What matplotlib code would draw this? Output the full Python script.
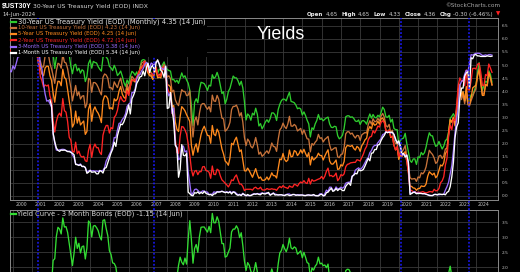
import numpy as np
import pandas as pd
import matplotlib
matplotlib.use("Agg")
import matplotlib.pyplot as plt
from matplotlib.lines import Line2D
from matplotlib.patches import Rectangle

W, H = 520, 272

# ---------------- data (monthly EOD yields, %) ----------------
months = pd.date_range("1999-06-01", "2024-06-01", freq="MS")
months_1m = pd.date_range("2001-07-01", "2024-06-01", freq="MS")

thirty_y = [
    5.98, 6.07, 6.06, 6.05, 6.16, 6.29, 6.48,
    6.49, 6.14, 5.83, 5.96, 6.15, 5.90, 5.78, 5.67, 5.89, 5.78, 5.61, 5.46,
    5.51, 5.35, 5.43, 5.76, 5.77, 5.70, 5.52, 5.39, 5.42, 4.87, 5.29, 5.47,
    5.44, 5.42, 5.80, 5.59, 5.62, 5.51, 5.39, 4.95, 4.67, 4.99, 5.03, 4.78,
    4.88, 4.69, 4.82, 4.77, 4.37, 4.56, 5.06, 5.20, 4.88, 5.14, 5.10, 5.08,
    4.94, 4.84, 4.77, 5.30, 5.36, 5.31, 5.22, 4.95, 4.89, 4.79, 4.99, 4.84,
    4.60, 4.67, 4.77, 4.58, 4.34, 4.19, 4.43, 4.28, 4.57, 4.76, 4.71, 4.61,
    4.74, 4.51, 4.90, 5.17, 5.21, 5.19, 5.07, 4.88, 4.77, 4.72, 4.56, 4.81,
    4.93, 4.68, 4.84, 4.81, 5.01, 5.12, 4.91, 4.83, 4.79, 4.77, 4.44, 4.45,
    4.35, 4.42, 4.30, 4.49, 4.70, 4.53, 4.59, 4.43, 4.31, 4.04, 3.45, 2.69,
    3.58, 3.71, 3.56, 4.05, 4.34, 4.32, 4.29, 4.18, 4.03, 4.23, 4.20, 4.63,
    4.49, 4.55, 4.72, 4.53, 4.22, 3.91, 3.98, 3.52, 3.69, 3.99, 4.11, 4.34,
    4.58, 4.51, 4.51, 4.40, 4.23, 4.38, 4.13, 3.60, 2.90, 3.13, 3.06, 2.89,
    3.16, 3.09, 3.35, 3.12, 2.67, 2.76, 2.56, 2.68, 2.82, 2.91, 2.81, 2.95,
    3.17, 3.17, 3.10, 2.88, 3.30, 3.50, 3.64, 3.70, 3.69, 3.63, 3.81, 3.96,
    3.61, 3.59, 3.56, 3.47, 3.33, 3.36, 3.32, 3.09, 3.21, 3.07, 2.89, 2.75,
    2.25, 2.60, 2.54, 2.75, 2.88, 3.11, 2.92, 2.95, 2.87, 2.93, 2.98, 3.01,
    2.75, 2.62, 2.61, 2.66, 2.64, 2.30, 2.18, 2.23, 2.32, 2.58, 3.02, 3.06,
    3.06, 3.00, 3.02, 2.96, 2.86, 2.84, 2.90, 2.73, 2.86, 2.88, 2.83, 2.74,
    2.95, 3.13, 2.97, 3.11, 3.00, 2.98, 3.08, 3.02, 3.19, 3.39, 3.30, 3.02,
    3.00, 3.08, 2.82, 2.93, 2.58, 2.53, 2.53, 1.96, 2.12, 2.18, 2.21, 2.39,
    2.00, 1.68, 1.35, 1.28, 1.41, 1.41, 1.20, 1.49, 1.46, 1.66, 1.57, 1.65,
    1.87, 2.17, 2.41, 2.30, 2.29, 2.06, 1.89, 1.93, 2.08, 1.93, 1.79, 1.90,
    2.11, 2.17, 2.44, 2.96, 3.04, 3.14, 3.01, 3.27, 3.79, 4.16, 3.80, 3.97,
    3.63, 3.92, 3.67, 3.67, 3.86, 3.85, 4.02, 4.20, 4.73, 5.09, 4.54, 4.03,
    4.22, 4.38, 4.34, 4.78, 4.65, 4.35,
]

ten_y = [
    5.90, 5.97, 5.97, 5.88, 6.02, 6.19, 6.45,
    6.68, 6.42, 6.03, 6.23, 6.29, 6.03, 6.04, 5.73, 5.80, 5.77, 5.48, 5.12,
    5.16, 4.92, 4.93, 5.35, 5.43, 5.42, 5.07, 4.85, 4.60, 4.30, 4.78, 5.07,
    5.03, 4.88, 5.42, 5.11, 5.08, 4.86, 4.51, 4.14, 3.63, 3.93, 4.22, 3.83,
    3.98, 3.70, 3.81, 3.83, 3.37, 3.54, 4.49, 4.45, 3.96, 4.33, 4.33, 4.27,
    4.15, 3.99, 3.86, 4.53, 4.66, 4.62, 4.50, 4.13, 4.14, 4.05, 4.36, 4.24,
    4.14, 4.36, 4.50, 4.21, 4.00, 3.94, 4.28, 4.02, 4.34, 4.57, 4.49, 4.39,
    4.53, 4.55, 4.86, 5.07, 5.12, 5.15, 4.99, 4.74, 4.64, 4.61, 4.46, 4.71,
    4.82, 4.56, 4.65, 4.63, 4.89, 5.03, 4.78, 4.54, 4.59, 4.48, 3.97, 4.04,
    3.67, 3.53, 3.45, 3.77, 4.06, 3.99, 3.99, 3.83, 3.85, 4.01, 2.93, 2.25,
    2.87, 3.02, 2.71, 3.16, 3.47, 3.53, 3.52, 3.40, 3.31, 3.41, 3.21, 3.85,
    3.63, 3.61, 3.84, 3.69, 3.31, 2.97, 2.94, 2.47, 2.53, 2.63, 2.81, 3.30,
    3.42, 3.42, 3.47, 3.32, 3.05, 3.18, 2.82, 2.23, 1.92, 2.17, 2.08, 1.89,
    1.83, 1.98, 2.23, 1.95, 1.59, 1.67, 1.51, 1.57, 1.65, 1.72, 1.62, 1.78,
    2.02, 1.89, 1.87, 1.70, 2.16, 2.52, 2.60, 2.78, 2.64, 2.57, 2.75, 3.04,
    2.67, 2.66, 2.73, 2.67, 2.48, 2.53, 2.58, 2.35, 2.52, 2.35, 2.18, 2.17,
    1.68, 2.00, 1.94, 2.05, 2.12, 2.35, 2.20, 2.22, 2.06, 2.16, 2.21, 2.27,
    1.94, 1.74, 1.78, 1.83, 1.84, 1.49, 1.46, 1.58, 1.60, 1.84, 2.37, 2.45,
    2.45, 2.36, 2.40, 2.29, 2.21, 2.31, 2.30, 2.12, 2.33, 2.38, 2.42, 2.40,
    2.72, 2.87, 2.74, 2.95, 2.83, 2.85, 2.96, 2.86, 3.05, 3.15, 3.01, 2.69,
    2.63, 2.73, 2.41, 2.51, 2.14, 2.00, 2.02, 1.50, 1.68, 1.69, 1.78, 1.92,
    1.51, 1.13, 0.70, 0.64, 0.65, 0.66, 0.55, 0.72, 0.69, 0.88, 0.84, 0.93,
    1.11, 1.44, 1.74, 1.65, 1.58, 1.45, 1.24, 1.30, 1.52, 1.55, 1.43, 1.52,
    1.79, 1.83, 2.32, 2.89, 2.85, 2.98, 2.67, 3.15, 3.83, 4.10, 3.68, 3.88,
    3.52, 3.92, 3.48, 3.44, 3.64, 3.81, 3.97, 4.09, 4.59, 4.88, 4.37, 3.88,
    3.91, 4.25, 4.20, 4.68, 4.51, 4.23,
]

five_y = [
    5.65, 5.72, 5.81, 5.78, 5.95, 6.07, 6.36,
    6.68, 6.62, 6.32, 6.50, 6.57, 6.23, 6.17, 5.99, 5.83, 5.80, 5.40, 4.99,
    4.89, 4.66, 4.59, 4.89, 4.96, 4.95, 4.60, 4.41, 3.93, 3.58, 4.07, 4.38,
    4.37, 4.21, 4.84, 4.53, 4.46, 4.06, 3.63, 3.26, 2.63, 2.76, 3.24, 2.78,
    3.02, 2.71, 2.79, 2.86, 2.35, 2.46, 3.31, 3.52, 2.85, 3.27, 3.40, 3.25,
    3.16, 3.01, 2.80, 3.63, 3.82, 3.81, 3.71, 3.33, 3.37, 3.31, 3.71, 3.63,
    3.71, 4.01, 4.18, 3.89, 3.77, 3.72, 4.12, 3.90, 4.18, 4.45, 4.40, 4.35,
    4.49, 4.69, 4.82, 4.92, 4.99, 5.10, 4.91, 4.70, 4.59, 4.58, 4.45, 4.70,
    4.84, 4.51, 4.54, 4.51, 4.86, 4.92, 4.60, 4.25, 4.23, 4.16, 3.41, 3.45,
    2.82, 2.54, 2.46, 3.03, 3.41, 3.34, 3.25, 3.10, 2.98, 2.84, 1.93, 1.55,
    1.85, 1.99, 1.67, 2.02, 2.34, 2.54, 2.66, 2.48, 2.31, 2.30, 2.01, 2.69,
    2.36, 2.30, 2.55, 2.43, 2.10, 1.79, 1.60, 1.33, 1.27, 1.17, 1.45, 2.01,
    1.95, 2.13, 2.24, 1.97, 1.69, 1.76, 1.35, 0.96, 0.95, 1.06, 0.96, 0.83,
    0.71, 0.87, 1.04, 0.82, 0.67, 0.72, 0.60, 0.59, 0.62, 0.72, 0.61, 0.72,
    0.88, 0.77, 0.77, 0.68, 1.05, 1.41, 1.38, 1.62, 1.39, 1.31, 1.37, 1.75,
    1.49, 1.51, 1.73, 1.69, 1.54, 1.62, 1.76, 1.63, 1.78, 1.62, 1.49, 1.65,
    1.18, 1.50, 1.37, 1.43, 1.49, 1.63, 1.54, 1.54, 1.37, 1.52, 1.65, 1.76,
    1.33, 1.22, 1.21, 1.28, 1.37, 1.01, 1.03, 1.19, 1.14, 1.31, 1.83, 1.93,
    1.91, 1.89, 1.93, 1.81, 1.75, 1.89, 1.84, 1.70, 1.92, 2.01, 2.14, 2.20,
    2.52, 2.65, 2.56, 2.80, 2.70, 2.73, 2.85, 2.74, 2.94, 2.98, 2.84, 2.51,
    2.43, 2.52, 2.23, 2.28, 1.93, 1.76, 1.84, 1.39, 1.55, 1.51, 1.62, 1.69,
    1.31, 0.94, 0.37, 0.36, 0.30, 0.29, 0.21, 0.28, 0.28, 0.38, 0.36, 0.36,
    0.45, 0.75, 0.92, 0.86, 0.80, 0.87, 0.69, 0.77, 0.98, 1.18, 1.14, 1.26,
    1.62, 1.71, 2.42, 2.92, 2.81, 3.01, 2.70, 3.30, 4.06, 4.27, 3.82, 3.99,
    3.63, 4.18, 3.60, 3.51, 3.74, 4.13, 4.18, 4.23, 4.60, 4.82, 4.31, 3.84,
    3.84, 4.26, 4.21, 4.72, 4.52, 4.25,
]

two_y = [
    5.52, 5.59, 5.73, 5.73, 5.88, 5.98, 6.24,
    6.59, 6.66, 6.53, 6.72, 6.74, 6.37, 6.32, 6.14, 5.98, 5.89, 5.43, 5.10,
    4.57, 4.40, 4.16, 4.24, 4.20, 4.24, 3.82, 3.63, 2.86, 2.44, 2.84, 3.07,
    3.16, 3.04, 3.72, 3.26, 3.20, 2.84, 2.24, 2.13, 1.70, 1.67, 2.05, 1.61,
    1.71, 1.53, 1.48, 1.51, 1.34, 1.31, 1.74, 1.97, 1.47, 1.83, 1.98, 1.84,
    1.84, 1.66, 1.58, 2.32, 2.55, 2.69, 2.69, 2.40, 2.61, 2.56, 3.00, 3.08,
    3.27, 3.60, 3.80, 3.66, 3.60, 3.64, 4.02, 3.84, 4.18, 4.40, 4.43, 4.41,
    4.54, 4.69, 4.82, 4.87, 4.99, 5.16, 4.96, 4.78, 4.71, 4.70, 4.60, 4.82,
    4.93, 4.65, 4.58, 4.60, 4.92, 4.87, 4.56, 4.15, 3.97, 3.94, 3.15, 3.05,
    2.17, 1.65, 1.62, 2.29, 2.65, 2.63, 2.52, 2.36, 2.00, 1.56, 1.01, 0.76,
    0.94, 0.97, 0.81, 0.93, 0.92, 1.11, 1.12, 0.97, 0.95, 0.90, 0.67, 1.14,
    0.82, 0.81, 1.02, 0.97, 0.76, 0.61, 0.55, 0.48, 0.42, 0.34, 0.45, 0.61,
    0.58, 0.72, 0.80, 0.61, 0.45, 0.45, 0.36, 0.20, 0.25, 0.25, 0.25, 0.25,
    0.22, 0.30, 0.33, 0.27, 0.27, 0.33, 0.23, 0.22, 0.23, 0.28, 0.25, 0.25,
    0.27, 0.25, 0.25, 0.21, 0.30, 0.36, 0.31, 0.39, 0.33, 0.31, 0.28, 0.38,
    0.34, 0.33, 0.44, 0.42, 0.37, 0.47, 0.53, 0.49, 0.58, 0.50, 0.47, 0.67,
    0.45, 0.62, 0.56, 0.58, 0.61, 0.64, 0.66, 0.74, 0.64, 0.75, 0.94, 1.06,
    0.76, 0.78, 0.73, 0.77, 0.87, 0.58, 0.66, 0.81, 0.77, 0.84, 1.11, 1.20,
    1.22, 1.26, 1.27, 1.28, 1.28, 1.38, 1.36, 1.33, 1.47, 1.60, 1.78, 1.89,
    2.14, 2.25, 2.27, 2.49, 2.40, 2.52, 2.67, 2.63, 2.81, 2.87, 2.80, 2.48,
    2.45, 2.52, 2.27, 2.27, 1.95, 1.75, 1.89, 1.50, 1.63, 1.52, 1.61, 1.58,
    1.33, 0.86, 0.23, 0.20, 0.16, 0.16, 0.11, 0.14, 0.13, 0.14, 0.16, 0.13,
    0.11, 0.13, 0.16, 0.16, 0.14, 0.25, 0.19, 0.20, 0.28, 0.50, 0.57, 0.73,
    1.18, 1.44, 2.28, 2.70, 2.53, 2.92, 2.88, 3.45, 4.22, 4.51, 4.38, 4.41,
    4.21, 4.81, 4.06, 4.04, 4.40, 4.87, 4.88, 4.85, 5.03, 5.07, 4.73, 4.23,
    4.21, 4.64, 4.59, 5.04, 4.89, 4.72,
]

three_m = [
    4.78, 4.74, 4.97, 4.85, 5.06, 5.30, 5.33,
    5.69, 5.78, 5.87, 5.82, 5.64, 5.88, 6.21, 6.31, 6.23, 6.40, 6.22, 5.89,
    4.98, 4.86, 4.28, 3.89, 3.62, 3.65, 3.53, 3.39, 2.37, 2.01, 1.75, 1.74,
    1.76, 1.77, 1.78, 1.77, 1.73, 1.70, 1.71, 1.69, 1.57, 1.46, 1.22, 1.20,
    1.18, 1.22, 1.12, 1.12, 1.09, 0.90, 0.95, 0.98, 0.95, 0.96, 0.94, 0.95,
    0.93, 0.97, 0.95, 0.97, 1.08, 1.33, 1.45, 1.58, 1.71, 1.90, 2.23, 2.22,
    2.51, 2.77, 2.79, 2.92, 2.99, 3.13, 3.42, 3.51, 3.55, 3.95, 3.95, 4.08,
    4.47, 4.62, 4.63, 4.77, 4.86, 5.01, 5.10, 5.05, 4.89, 5.08, 5.03, 5.02,
    5.13, 5.16, 5.04, 4.91, 4.86, 4.82, 4.96, 4.01, 3.82, 3.94, 3.15, 3.36,
    1.96, 1.85, 1.38, 1.43, 1.89, 1.90, 1.68, 1.72, 0.92, 0.46, 0.01, 0.11,
    0.24, 0.26, 0.21, 0.14, 0.14, 0.19, 0.18, 0.15, 0.14, 0.05, 0.06, 0.06,
    0.15, 0.13, 0.16, 0.16, 0.16, 0.18, 0.15, 0.13, 0.16, 0.12, 0.17, 0.12,
    0.15, 0.15, 0.09, 0.04, 0.06, 0.03, 0.10, 0.02, 0.02, 0.01, 0.01, 0.02,
    0.06, 0.08, 0.07, 0.09, 0.07, 0.09, 0.11, 0.09, 0.10, 0.11, 0.08, 0.05,
    0.07, 0.11, 0.07, 0.05, 0.04, 0.04, 0.04, 0.02, 0.02, 0.05, 0.07, 0.07,
    0.02, 0.05, 0.05, 0.03, 0.04, 0.04, 0.03, 0.03, 0.02, 0.01, 0.02, 0.04,
    0.02, 0.02, 0.03, 0.01, 0.01, 0.01, 0.08, 0.08, 0.00, 0.08, 0.22, 0.16,
    0.33, 0.33, 0.21, 0.22, 0.34, 0.26, 0.28, 0.33, 0.29, 0.34, 0.48, 0.51,
    0.52, 0.53, 0.76, 0.80, 0.98, 1.03, 1.07, 1.01, 1.06, 1.15, 1.27, 1.39,
    1.46, 1.65, 1.73, 1.87, 1.93, 1.93, 2.03, 2.11, 2.19, 2.34, 2.37, 2.45,
    2.41, 2.45, 2.40, 2.43, 2.35, 2.12, 2.08, 1.99, 1.88, 1.54, 1.59, 1.55,
    1.55, 1.27, 0.11, 0.09, 0.14, 0.16, 0.09, 0.11, 0.10, 0.09, 0.08, 0.09,
    0.06, 0.04, 0.03, 0.01, 0.01, 0.05, 0.06, 0.04, 0.04, 0.05, 0.05, 0.06,
    0.22, 0.35, 0.52, 0.85, 1.16, 1.72, 2.41, 2.96, 3.33, 4.22, 4.37, 4.42,
    4.65, 4.80, 4.75, 5.05, 5.40, 5.38, 5.42, 5.45, 5.45, 5.45, 5.42, 5.37,
    5.37, 5.39, 5.37, 5.40, 5.40, 5.38,
]

one_m = [
    3.67, 3.45, 2.39, 2.07, 1.83, 1.74,
    1.70, 1.75, 1.74, 1.75, 1.73, 1.69, 1.69, 1.66, 1.63, 1.57, 1.20, 1.19,
    1.16, 1.19, 1.12, 1.13, 1.08, 0.86, 0.90, 0.97, 0.90, 0.91, 0.92, 0.84,
    0.84, 0.96, 0.94, 0.87, 1.05, 1.08, 1.27, 1.47, 1.64, 1.78, 2.05, 1.89,
    2.30, 2.53, 2.74, 2.72, 2.83, 3.01, 3.18, 3.48, 3.13, 3.71, 3.84, 4.01,
    4.30, 4.41, 4.55, 4.57, 4.77, 4.59, 4.90, 5.07, 4.71, 4.92, 4.99, 4.74,
    5.07, 5.20, 5.04, 4.80, 4.72, 4.53, 4.95, 3.34, 3.37, 3.95, 3.34, 2.82,
    1.93, 1.83, 0.71, 1.01, 1.96, 1.55, 1.53, 1.62, 0.14, 0.08, 0.02, 0.00,
    0.12, 0.10, 0.15, 0.08, 0.13, 0.09, 0.17, 0.10, 0.07, 0.04, 0.05, 0.01,
    0.07, 0.08, 0.15, 0.14, 0.15, 0.17, 0.15, 0.12, 0.14, 0.11, 0.15, 0.07,
    0.15, 0.12, 0.05, 0.02, 0.04, 0.01, 0.08, 0.05, 0.00, 0.05, 0.01, 0.01,
    0.04, 0.07, 0.06, 0.08, 0.05, 0.04, 0.10, 0.08, 0.07, 0.10, 0.13, 0.02,
    0.06, 0.10, 0.03, 0.04, 0.03, 0.04, 0.04, 0.02, 0.01, 0.04, 0.04, 0.01,
    0.02, 0.05, 0.05, 0.02, 0.03, 0.02, 0.03, 0.03, 0.01, 0.01, 0.03, 0.03,
    0.02, 0.02, 0.05, 0.01, 0.00, 0.00, 0.04, 0.06, 0.00, 0.01, 0.12, 0.14,
    0.22, 0.29, 0.17, 0.20, 0.28, 0.20, 0.26, 0.26, 0.20, 0.20, 0.36, 0.44,
    0.49, 0.40, 0.74, 0.79, 0.86, 0.84, 1.00, 0.96, 0.97, 1.01, 1.14, 1.28,
    1.43, 1.34, 1.63, 1.64, 1.77, 1.77, 1.95, 1.96, 2.12, 2.23, 2.31, 2.44,
    2.42, 2.43, 2.43, 2.43, 2.35, 2.18, 2.01, 2.10, 1.91, 1.59, 1.62, 1.48,
    1.56, 1.28, 0.05, 0.09, 0.13, 0.13, 0.08, 0.09, 0.09, 0.09, 0.08, 0.08,
    0.06, 0.04, 0.01, 0.01, 0.01, 0.05, 0.05, 0.04, 0.07, 0.06, 0.05, 0.06,
    0.04, 0.13, 0.17, 0.35, 0.73, 1.28, 2.22, 2.64, 2.79, 3.73, 4.12, 4.12,
    4.58, 4.70, 4.74, 4.10, 5.28, 5.24, 5.39, 5.40, 5.35, 5.35, 5.33, 5.33,
    5.33, 5.33, 5.35, 5.34, 5.33, 5.34,
]

# marker dates of the blue dotted vertical lines (decimal years)
marker_years = [2000.87, 2006.91, 2019.68, 2023.22]

year_labels = [str(y) for y in range(2000, 2025)]
top_ticks = [f"{v:.1f}" for v in np.arange(0.0, 6.51, 0.5)]
bot_ticks = [f"{v:.1f}" for v in np.arange(2.0, 3.51, 0.5)]

legend_rows = [
    ("30-Year US Treasury Yield (EOD) (Monthly) 4.35 (14 Jun)", "#2ecc2e", "#e6e6e6"),
    ("10-Year US Treasury Yield (EOD) 4.23 (14 Jun)", "#c8733a", "#c8733a"),
    ("5-Year US Treasury Yield (EOD) 4.25 (14 Jun)", "#ff8a1e", "#ff8a1e"),
    ("2-Year US Treasury Yield (EOD) 4.72 (14 Jun)", "#ff2424", "#ff2424"),
    ("3-Month US Treasury Yield (EOD) 5.38 (14 Jun)", "#9a6cff", "#9a6cff"),
    ("1-Month US Treasury Yield (EOD) 5.34 (14 Jun)", "#ffffff", "#ffffff"),
]

# ---------------- figure ----------------
def dec(idx):
    return np.asarray(idx.year + (idx.month - 1) / 12.0, dtype=float)

x_all = dec(months)
x_1m = dec(months_1m)
curve = np.array(ten_y) - np.array(three_m)

fig = plt.figure(figsize=(W / 100, H / 100), dpi=100, facecolor="black")
renderer = fig.canvas.get_renderer()


def fx(px):
    return px / W


def fy(py):
    return 1 - py / H


def yr(px):
    return 2000 + (px - 21) / 19.29


ax1 = fig.add_axes([fx(10), fy(200), (498 - 10) / W, (200 - 18) / H])
ax2 = fig.add_axes([fx(10), fy(300), (498 - 10) / W, (300 - 209.5) / H])

grid_c = "#3a3a3a"
for ax in (ax1, ax2):
    ax.set_facecolor("black")
    ax.set_xlim(yr(10), yr(498))
    for s in ax.spines.values():
        s.set_color("#8a8a8a")
        s.set_linewidth(0.7)
    ax.yaxis.tick_right()
    ax.tick_params(axis="y", which="major", length=0, pad=2.8, labelsize=3.1,
                   labelcolor="#c4c4c4")
    ax.set_xticks([y - 0.41 for y in range(2000, 2025)], minor=True)
    ax.tick_params(axis="x", which="minor", length=0)
    ax.grid(which="minor", axis="x", color=grid_c, lw=0.6)
    ax.set_axisbelow(True)

ax1.set_ylim(-0.16, 6.80)
ax1.set_yticks(np.arange(0.0, 6.51, 0.5))
ax1.set_yticklabels(top_ticks)
ax1.grid(which="major", axis="y", color=grid_c, lw=0.6)
ax1.set_xticks(range(2000, 2025))
ax1.set_xticklabels(year_labels)
ax1.tick_params(axis="x", which="major", length=0, pad=1.6, labelsize=3.3,
                labelcolor="#c4c4c4")

ax2.set_ylim(0.92, 3.92)
ax2.set_yticks(np.arange(2.0, 3.51, 0.5))
ax2.set_yticklabels(bot_ticks)
ax2.set_yticks([1.0, 1.5], minor=True)
ax2.tick_params(axis="y", which="minor", length=0)
ax2.grid(which="both", axis="y", color=grid_c, lw=0.6)
ax2.set_xticks(range(2000, 2025))
ax2.tick_params(axis="x", which="major", length=0, labelbottom=False)

series = [thirty_y, ten_y, five_y, two_y, three_m]
for vals, (_, lc, _) in zip(series, legend_rows[:5]):
    ax1.plot(x_all, vals, color=lc, lw=0.95, zorder=3)
ax1.plot(x_1m, one_m, color=legend_rows[5][1], lw=0.95, zorder=4)

ax2.plot(x_all, curve, color="#33dd33", lw=0.95, zorder=3)

for m in marker_years:
    ax1.axvline(m, ymin=-(9.5 / 182), ymax=1, color="#1a1aff", lw=1.1,
                ls=(0, (1.2, 1.2)), zorder=8, clip_on=False)
    ax2.axvline(m, color="#1a1aff", lw=1.1, ls=(0, (1.2, 1.2)), zorder=8)

# legend block (opaque)
bg = Rectangle((fx(10.5), fy(56.5)), (207 - 10.5) / W, (56.5 - 18.5) / H,
               transform=fig.transFigure, facecolor="black", edgecolor="none",
               zorder=5)
fig.patches.append(bg)


def fit_text(xl, yc, s, target_w, family="DejaVu Sans", weight="normal",
             color="white", va="center"):
    t = fig.text(fx(xl), fy(yc), s, fontsize=10, family=family, weight=weight,
                 color=color, va=va, ha="left", zorder=10)
    w = t.get_window_extent(renderer).width
    t.set_fontsize(10 * target_w / w)
    return t


row_y = [21.7, 27.8, 34.0, 40.2, 46.5, 52.7]
for i, ((txt, lc, tc), yy) in enumerate(zip(legend_rows, row_y)):
    fig.lines.append(Line2D([fx(11), fx(16)], [fy(yy), fy(yy)], color=lc, lw=1.6,
                            transform=fig.transFigure, zorder=10))
    if i == 0:
        fit_text(18, yy, txt, 187, color=tc)
    else:
        fit_text(18, yy, txt, 122 * len(txt) / len(legend_rows[1][0]), color=tc)

# bottom legend
fig.lines.append(Line2D([fx(10.5), fx(15.5)], [fy(213.5), fy(213.5)], color="#33dd33",
                        lw=1.6, transform=fig.transFigure, zorder=10))
fit_text(17, 213.5, "Yield Curve - 3 Month Bonds (EOD) -1.15 (14 Jun)", 165,
         color="#d8d8d8")

# header
fit_text(2, 6.2, "$UST30Y", 30, family="Liberation Sans", weight="bold", color="white")
fit_text(33, 6.5, "30-Year US Treasury Yield (EOD) INDX", 114, color="#d6d6d6")
fit_text(2, 14.2, "14-Jun-2024", 33, color="#d6d6d6")
fit_text(445, 5.8, "\u00a9StockCharts.com", 55, color="#a8a8a8")

# OHLC line
segs = [("Open", "bold", "#eeeeee"), ("4.65", "normal", "#cfcfcf"),
        ("High", "bold", "#eeeeee"), ("4.65", "normal", "#cfcfcf"),
        ("Low", "bold", "#eeeeee"), ("4.33", "normal", "#cfcfcf"),
        ("Close", "bold", "#eeeeee"), ("4.36", "normal", "#cfcfcf"),
        ("Chg", "bold", "#eeeeee"), ("-0.30 (-6.46%)", "normal", "#cfcfcf"),
        ("\u25bc", "normal", "#ff2020")]
gaps = [1.8, 3.4, 1.8, 3.4, 1.8, 3.4, 1.8, 3.4, 1.8, 2.0]
fs = 3.6
texts = []
widths = []
for s, wgt, c in segs:
    t = fig.text(0, fy(14.2), s, fontsize=fs, family="DejaVu Sans", weight=wgt,
                 color=c, va="center", ha="left", zorder=10)
    texts.append(t)
    widths.append(t.get_window_extent(renderer).width)
total = sum(widths) + sum(gaps)
scale = (500 - 307) / total
xcur = 307.0
for i, t in enumerate(texts):
    t.set_fontsize(fs * scale)
    t.set_x(fx(xcur))
    xcur += widths[i] * scale + (gaps[i] * scale if i < len(gaps) else 0)

# big title
fit_text(257, 34.5, "Yields", 48, family="Liberation Sans", color="white")

fig.savefig("out.png", dpi=100, facecolor="black")
